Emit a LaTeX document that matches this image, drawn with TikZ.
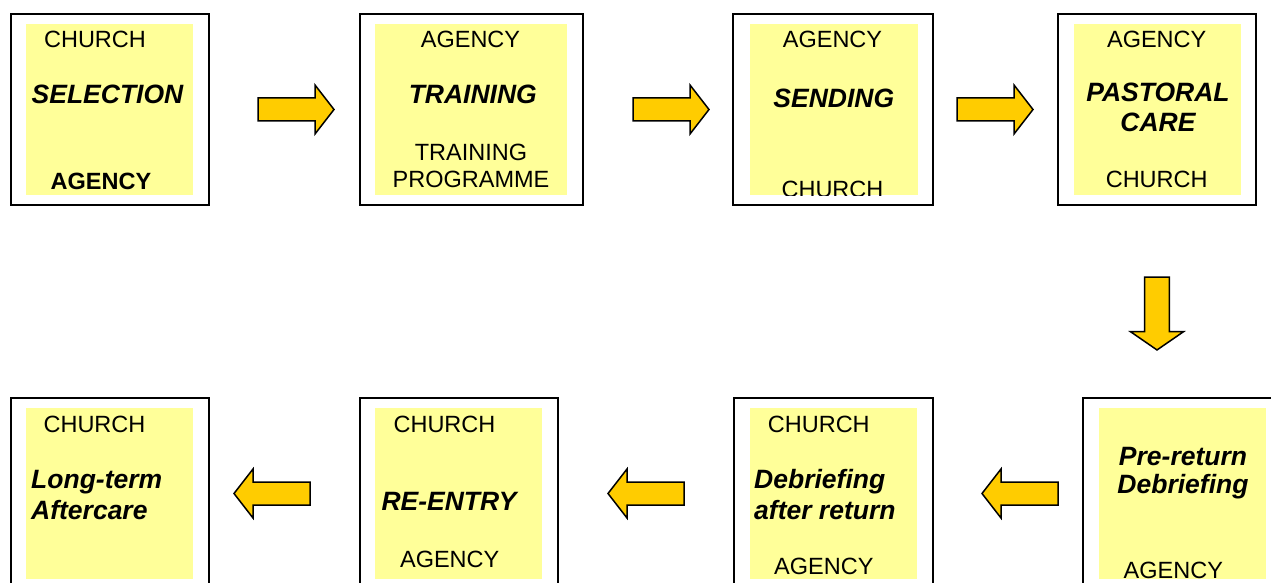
\documentclass[tikz,border=0pt]{standalone}
\usepackage{fontspec}
\setmainfont{Liberation Sans}
\definecolor{boxyellow}{HTML}{FFFF99}
\definecolor{arrowgold}{HTML}{FFCC00}
\tikzset{
  outerbox/.style={draw=black, line width=2pt, fill=white, inner sep=0pt, outer sep=0pt},
  yellowbox/.style={fill=boxyellow, draw=none, inner sep=0pt, outer sep=0pt},
  lbl/.style={anchor=base, inner sep=0pt, font=\fontsize{23.5}{28}\selectfont},
  ttl/.style={anchor=base, inner sep=0pt, font=\fontsize{26.5}{30}\selectfont\bfseries\itshape},
  blockarrow/.pic={\draw[line width=1.5pt, fill=arrowgold, line join=miter]
     (0,-11.5) -- (57,-11.5) -- (57,-24.5) -- (76,0) -- (57,24.5) -- (57,11.5) -- (0,11.5) -- cycle;}
}
\begin{document}
\begin{tikzpicture}[x=1pt,y=-1pt]
\useasboundingbox (0,0) rectangle (1271,583);
\clip (0,0) rectangle (1271,583);
% ---- top row boxes
\node[outerbox, minimum width=198pt, minimum height=191pt] (b1) at (110,109.5) {};
\node[yellowbox, minimum width=167pt, minimum height=171pt] (y1) at (109.5,109.5) {};
\node[outerbox, minimum width=223.5pt, minimum height=191pt] (b2) at (471.25,109.5) {};
\node[yellowbox, minimum width=192.3pt, minimum height=171pt] (y2) at (471.2,109.5) {};
\node[outerbox, minimum width=200pt, minimum height=191pt] (b3) at (833,109.5) {};
\node[yellowbox, minimum width=168pt, minimum height=171pt] (y3) at (834,109.5) {};
\node[outerbox, minimum width=198pt, minimum height=191pt] (b4) at (1157.3,109.5) {};
\node[yellowbox, minimum width=166.7pt, minimum height=171pt] (y4) at (1157.4,109.5) {};
% ---- bottom row boxes
\node[outerbox, minimum width=198pt, minimum height=191pt] (b5) at (110,493.5) {};
\node[yellowbox, minimum width=167pt, minimum height=170.7pt] (y5) at (109.5,493.7) {};
\node[outerbox, minimum width=198.3pt, minimum height=191pt] (b6) at (459.2,493.5) {};
\node[yellowbox, minimum width=167.3pt, minimum height=170.7pt] (y6) at (458.7,493.7) {};
\node[outerbox, minimum width=199pt, minimum height=191pt] (b7) at (833.8,493.5) {};
\node[yellowbox, minimum width=167.3pt, minimum height=170.7pt] (y7) at (833.7,493.7) {};
\node[outerbox, minimum width=198pt, minimum height=191pt] (b8) at (1181.7,493.5) {};
\node[yellowbox, minimum width=167pt, minimum height=170.7pt] (y8) at (1182.5,493.7) {};
% ---- texts box 1
\node[lbl] (t1a) at (95,47.5) {CHURCH};
\node[ttl] (t1b) at (107.5,104) {SELECTION};
\node[lbl, font=\fontsize{23.5}{28}\selectfont\bfseries] (t1c) at (101,189.5) {AGENCY};
% ---- box 2
\node[lbl] (t2a) at (470.5,47.2) {AGENCY};
\node[ttl] (t2b) at (472.8,104) {TRAINING};
\node[lbl, align=center, font=\fontsize{23.5}{27.3}\selectfont] (t2c) at (471,187.8) {TRAINING\\PROGRAMME};
% ---- box 3
\node[lbl] (t3a) at (832.5,47.5) {AGENCY};
\node[ttl] (t3b) at (833.8,107.7) {SENDING};
\begin{scope}
  \clip (y3.south west) rectangle (y3.north east);
  \node[lbl] (t3c) at (832.5,197.5) {CHURCH};
\end{scope}
% ---- box 4
\node[lbl] (t4a) at (1156.7,47.2) {AGENCY};
\node[ttl, align=center] (t4b) at (1158,131.3) {PASTORAL\\CARE};
\node[lbl] (t4c) at (1156.7,187.8) {CHURCH};
% ---- box 5
\node[lbl] (t5a) at (94.5,432.2) {CHURCH};
\node[ttl, align=left, anchor=base west, font=\fontsize{26.5}{30.7}\selectfont\bfseries\itshape] (t5b) at (31,519.5) {Long-term\\Aftercare};
% ---- box 6
\node[lbl] (t6a) at (444.5,432.2) {CHURCH};
\node[ttl] (t6b) at (449,510.6) {RE-ENTRY};
\node[lbl] (t6c) at (449.7,567.2) {AGENCY};
% ---- box 7
\node[lbl] (t7a) at (818.8,432.2) {CHURCH};
\node[ttl, align=left, anchor=base west, font=\fontsize{26.5}{31}\selectfont\bfseries\itshape] (t7b) at (754,519.8) {Debriefing\\after return};
\node[lbl] (t7c) at (823.8,574.8) {AGENCY};
% ---- box 8
\node[ttl, align=center, font=\fontsize{26.5}{28}\selectfont\bfseries\itshape] (t8a) at (1183,493.2) {Pre-return\\Debriefing};
\begin{scope}
  \clip (y8.south west) rectangle (y8.north east);
  \node[lbl] (t8b) at (1173.3,578.5) {AGENCY};
\end{scope}
% ---- block arrows
\pic at (258,109.5) {blockarrow};
\pic at (633,109.5) {blockarrow};
\pic at (957,109.5) {blockarrow};
\pic[rotate=-90, xscale=0.96, yscale=1.08] at (1157,277) {blockarrow};
\pic[rotate=180] at (1058,493.5) {blockarrow};
\pic[rotate=180] at (684,493.5) {blockarrow};
\pic[rotate=180] at (310,493.5) {blockarrow};
\end{tikzpicture}
\end{document}
